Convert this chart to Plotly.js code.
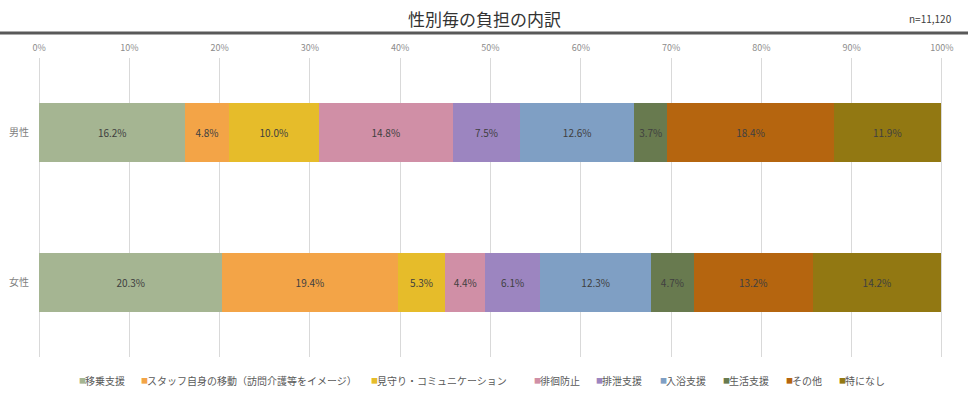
<!DOCTYPE html>
<html>
<head>
<meta charset="utf-8">
<script src="https://cdn.plot.ly/plotly-3.0.1.min.js"></script>
<style>html,body{margin:0;padding:0;background:#fff;}#chart{width:968px;height:396px;}</style>
</head>
<body>
<div id="chart"></div>
<script>
const groups = ['男性', '女性'];
const seriesNames = ['移乗支援', 'スタッフ自身の移動（訪問介護等をイメージ）', '見守り・コミュニケーション', '徘徊防止', '排泄支援', '入浴支援', '生活支援', 'その他', '特になし'];
const maleValues = [16.2, 4.8, 10.0, 14.8, 7.5, 12.6, 3.7, 18.4, 11.9];
const femaleValues = [20.3, 19.4, 5.3, 4.4, 6.1, 12.3, 4.7, 13.2, 14.2];
const colors = ['#a5b592', '#f3a447', '#e6bc2a', '#d08fa6', '#9c85c0', '#7f9fc4', '#687a4f', '#b5650f', '#927812'];
const tickVals = [0, 10, 20, 30, 40, 50, 60, 70, 80, 90, 100];
const tickText = ['0%', '10%', '20%', '30%', '40%', '50%', '60%', '70%', '80%', '90%', '100%'];
const chartTitle = '性別毎の負担の内訳';
const sampleNote = 'n=11,120';

const FONT = '"Noto Sans CJK JP", "Noto Sans", sans-serif';
const traces = seriesNames.map((name, i) => ({
  type: 'bar', orientation: 'h', name: name,
  y: groups, x: [maleValues[i], femaleValues[i]],
  marker: {color: colors[i], line: {width: 0}},
  texttemplate: '%{x:.1f}%', textposition: 'inside', insidetextanchor: 'middle',
  textfont: {size: 10, color: '#404040', family: FONT},
  constraintext: 'none',
  showlegend: false, hoverinfo: 'skip'
}));

const W = 905, H = 299, L = 38, T = 58;
const px = (x) => (x - L) / W;          // page pixel -> paper x
const py = (y) => (T + H - y) / H;      // page pixel -> paper y

// legend entries (custom, positioned like the original legend row)
const legendX = [78, 140, 370, 533, 595, 659, 722, 785, 838];
const legendY = 380;
const annotations = [
  {text: chartTitle, xref: 'paper', yref: 'paper', x: px(484), y: py(18),
   xanchor: 'center', yanchor: 'middle', showarrow: false,
   font: {size: 17, color: '#333333', family: FONT}},
  {text: sampleNote, xref: 'paper', yref: 'paper', x: px(954), y: py(18),
   xanchor: 'right', yanchor: 'middle', showarrow: false,
   font: {size: 10, color: '#404040', family: FONT}}
];
seriesNames.forEach((name, i) => {
  annotations.push({text: '■', xref: 'paper', yref: 'paper', x: px(legendX[i] - 1), y: py(legendY),
    xanchor: 'left', yanchor: 'middle', showarrow: false,
    font: {size: 7, color: colors[i], family: FONT}});
  annotations.push({text: name, xref: 'paper', yref: 'paper', x: px(legendX[i] + 5), y: py(legendY),
    xanchor: 'left', yanchor: 'middle', showarrow: false,
    font: {size: 10, color: '#595959', family: FONT}});
});

const layout = {
  width: 968, height: 396,
  margin: {l: L, r: 968 - L - W, t: T, b: 396 - T - H, pad: 0},
  paper_bgcolor: '#ffffff', plot_bgcolor: '#ffffff',
  font: {family: FONT, color: '#595959', size: 10},
  barmode: 'stack', bargap: 0.607,
  showlegend: false,
  xaxis: {
    side: 'top', range: [-0.12, 100.12], tickvals: tickVals, ticktext: tickText,
    showgrid: true, gridcolor: '#d9d9d9', gridwidth: 1, zeroline: false,
    showline: false, ticks: '', ticklabelstandoff: 4, automargin: false,
    tickfont: {size: 9, color: '#8c8c8c', family: FONT}, fixedrange: true
  },
  yaxis: {
    type: 'category', autorange: 'reversed', showgrid: false, zeroline: false,
    showline: false, ticks: '', ticklabelstandoff: 8, automargin: false,
    tickfont: {size: 10, color: '#7f7f7f', family: FONT}, fixedrange: true
  },
  shapes: [{
    type: 'line', xref: 'paper', yref: 'paper',
    x0: px(0), x1: px(968), y0: py(33), y1: py(33),
    line: {color: '#595959', width: 3}
  }],
  annotations: annotations
};

Plotly.newPlot('chart', traces, layout, {displayModeBar: false, staticPlot: true});
</script>
</body>
</html>
